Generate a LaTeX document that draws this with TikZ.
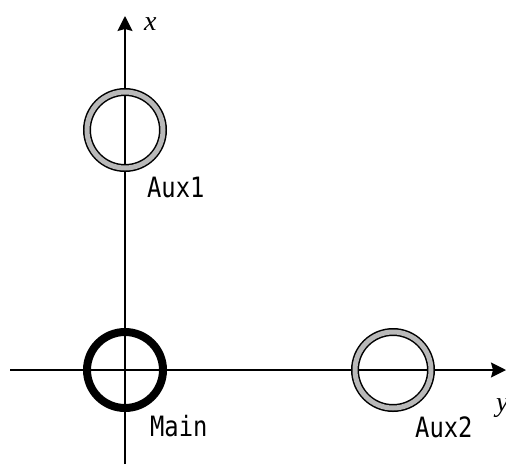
\documentclass[tikz,border=0pt]{standalone}
\usepackage{fontspec}
\setmainfont{Liberation Serif}
\setmonofont{DejaVu Sans Mono}
\usetikzlibrary{arrows.meta}
\begin{document}
\begin{tikzpicture}[x=1pt,y=-1pt,
  axis/.style={line width=1.6pt,-{Stealth[length=15pt,width=15pt,inset=2pt]}},
  auxring/.style={circle,inner sep=0pt,minimum size=76pt,draw=black,line width=1.5pt,double=gray!55,double distance=5pt},
  mainring/.style={circle,inner sep=0pt,minimum size=76pt,draw=black,line width=8pt},
  lbl/.style={font=\ttfamily\fontsize{28}{30}\selectfont,xscale=0.85,anchor=base west,inner sep=0pt},
  axlbl/.style={font=\itshape\fontsize{28}{30}\selectfont,anchor=base west,inner sep=0pt}]
\useasboundingbox (0,0) rectangle (506,464);
\coordinate (xb) at (125,464);
\coordinate (xt) at (125,16);
\coordinate (yl) at (10,370);
\coordinate (yr) at (506,370);
\draw[axis] (xb) -- (xt);
\draw[axis] (yl) -- (yr);
\node[auxring] (aux1) at (125,130) {};
\node[mainring] (main) at (125,370) {};
\node[auxring] (aux2) at (393,370) {};
\node[lbl] (laux1) at (147,197) {Aux1};
\node[lbl] (lmain) at (150,436) {Main};
\node[lbl] (laux2) at (415,437) {Aux2};
\node[axlbl] (lx) at (144,30) {x};
\node[axlbl] (ly) at (496,411) {y};
\end{tikzpicture}
\end{document}
